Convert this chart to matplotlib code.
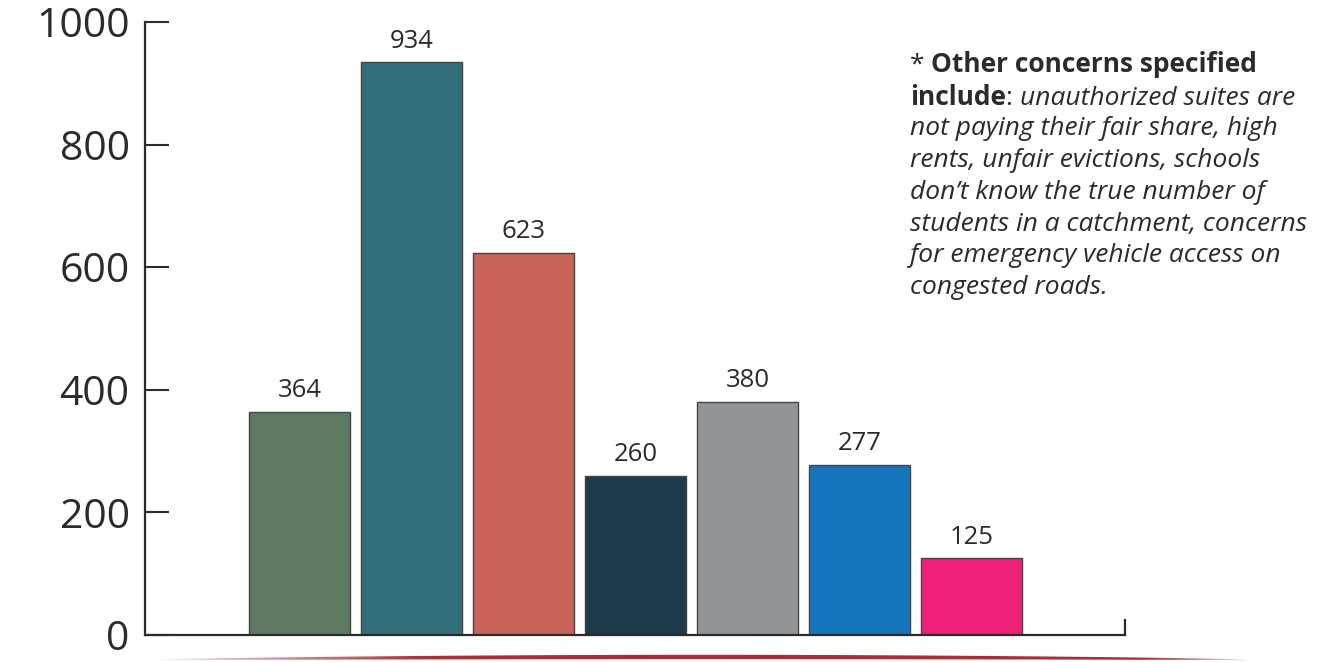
import numpy as np
import matplotlib
matplotlib.use("Agg")
import matplotlib.pyplot as plt
from matplotlib.patches import Polygon

plt.rcParams['font.family'] = ['Open Sans', 'DejaVu Sans']

# Responses per concern
values = [364, 934, 623, 260, 380, 277, 125]
colors = ['#5f7a63', '#336f78', '#c9635a', '#1e3a4c', '#929598', '#1475bc', '#ee2077']
yticks = [0, 200, 400, 600, 800, 1000]

ink = '#2b2b2b'

fig = plt.figure(figsize=(13.27, 6.62), dpi=100)
ax = fig.add_axes([145 / 1327, 27 / 662, (1125 - 145) / 1327, (635 - 22) / 662])

x = np.arange(len(values))
bars = ax.bar(x, values, width=0.9, color=colors, edgecolor='#444444', linewidth=1.0, zorder=2)
for rect, v in zip(bars, values):
    ax.text(rect.get_x() + rect.get_width() / 2, v + 24, str(v),
            ha='center', va='baseline', fontsize=18.5, color=ink)

ax.set_xlim(-1.379, 7.371)
ax.set_ylim(0, 1000)
ax.set_yticks(yticks)
ax.set_yticklabels([str(t) for t in yticks])
ax.set_xticks([])
ax.tick_params(axis='y', direction='in', length=17, width=1.5, color=ink,
               labelsize=29.5, labelcolor=ink, pad=11)

ax.spines['top'].set_visible(False)
for side in ('left', 'bottom', 'right'):
    ax.spines[side].set_color(ink)
    ax.spines[side].set_linewidth(1.6)
ax.spines['right'].set_bounds(0, 24)

# Footnote with mixed weights
fs = 19
x0 = 910 / 1327
y0 = 1 - 52.5 / 662
line_h = 31.8 / 662
t1 = fig.text(x0, y0, '* ', fontsize=fs, color=ink, va='top')
ax.annotate('Other concerns specified', xy=(1, 0), xycoords=t1, va='bottom',
            fontsize=fs, fontweight='bold', color=ink)
y2 = y0 - line_h
t3 = fig.text(x0, y2, 'include', fontsize=fs, fontweight='bold', color=ink, va='top')
t4 = ax.annotate(': ', xy=(1, 0), xycoords=t3, va='bottom', fontsize=fs, color=ink)
ax.annotate('unauthorized suites are', xy=(1, 0), xycoords=t4, va='bottom',
            fontsize=fs, style='italic', color=ink)
rest = ['not paying their fair share, high',
        'rents, unfair evictions, schools',
        'don\u2019t know the true number of',
        'students in a catchment, concerns',
        'for emergency vehicle access on',
        'congested roads.']
for i, line in enumerate(rest):
    fig.text(x0, y2 - (i + 1) * line_h, line, fontsize=fs, style='italic',
             color=ink, va='top')

# Decorative tapered swoosh under the chart
gax = fig.add_axes([155 / 1327, 0, (1252 - 155) / 1327, 10 / 662])
gax.set_axis_off()
gax.set_xlim(0, 1)
gax.set_ylim(0, 10)
n = 800
t = np.linspace(0, 1, n)
alpha = np.clip(np.minimum(t / 0.25, (1 - t) / 0.1), 0, 1) ** 0.8
img = np.zeros((1, n, 4))
img[..., 0] = 0.64
img[..., 1] = 0.19
img[..., 2] = 0.23
img[..., 3] = alpha
im = gax.imshow(img, aspect='auto', extent=[0, 1, 0, 10])
xs = np.linspace(0, 1, 200)
center = 2.0 + 3.0 * np.sin(np.pi * xs) ** 0.7
half = 0.4 + 1.8 * np.sin(np.pi * xs) ** 0.8
poly = Polygon(np.column_stack([np.r_[xs, xs[::-1]],
                                np.r_[center + half, (center - half)[::-1]]]),
               closed=True, transform=gax.transData, facecolor='none', edgecolor='none')
gax.add_patch(poly)
im.set_clip_path(poly)

fig.savefig('out.png', dpi=100)
